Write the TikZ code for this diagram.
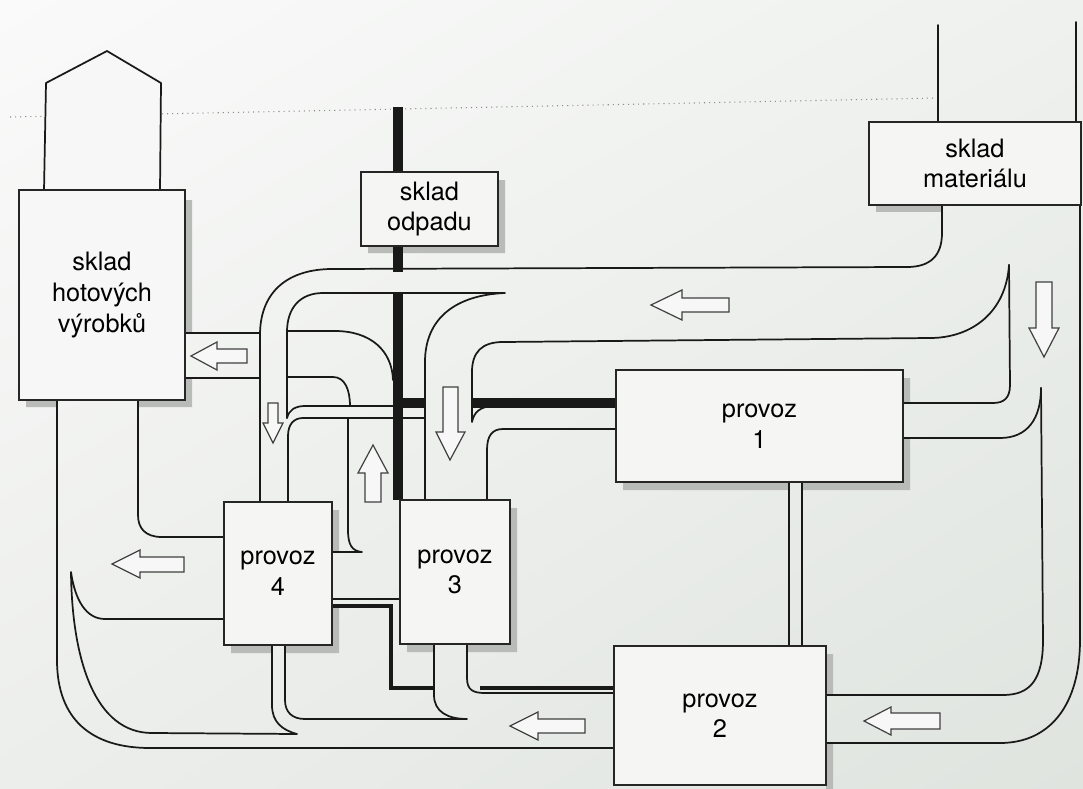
\documentclass[tikz,border=0pt]{standalone}
\usepackage{fontspec}
\setmainfont{TeX Gyre Heros}
\usetikzlibrary{shadings}
\definecolor{bgA}{HTML}{FAFAFA}
\definecolor{bgB}{HTML}{EEF1EE}
\definecolor{bgC}{HTML}{ECEEEB}
\definecolor{bgD}{HTML}{DFE4DF}
\definecolor{boxc}{HTML}{F5F6F4}
\definecolor{shdc}{HTML}{B9BBB9}
\begin{document}
\begin{tikzpicture}[x=0.75pt,y=-0.75pt,
  ln/.style={draw=black!90,line width=1.3pt,line join=round,line cap=round},
  thk/.style={draw=black!90,line width=7pt},
  thkb/.style={draw=black!90,line width=3.2pt},
  harrow/.style={draw=black!75,line width=0.9pt,fill=white!97!black,line join=miter},
  box/.style={draw=black!85,line width=1.2pt,fill=boxc,align=center,inner sep=0pt,
    font=\fontsize{19}{23}\selectfont},
  shd/.style={fill=shdc,draw=none}]
\useasboundingbox (0,0) rectangle (1083,789);
\shade[upper left=bgA,upper right=bgB,lower left=bgC,lower right=bgD] (0,0) rectangle (1083,789);
% dotted page line
\draw[black!45,line width=0.8pt,dash pattern=on 0.8pt off 3pt] (10,117) -- (937,98);
% shadows
\path[shd] (185,200) rectangle (192,333) (185,378) rectangle (192,407)
  (26,400) rectangle (57,407) (138,400) rectangle (192,407);
\path[shd] (498,180) rectangle (505,253) (368,246) rectangle (505,253);
\path[shd] (876,205) rectangle (942,212);
\path[shd] (903,378) rectangle (910,403) (903,438) rectangle (910,490)
  (623,482) rectangle (789,490) (802,482) rectangle (910,490);
\path[shd] (826,654) rectangle (833,695) (826,743) rectangle (833,789);
\path[shd] (510,508) rectangle (517,652) (407,644) rectangle (434,652) (467,644) rectangle (517,652);
\path[shd] (332,510) rectangle (339,552) (332,607) rectangle (339,653)
  (231,645) rectangle (272,653) (285,645) rectangle (339,653);
% house roof of finished goods store
\draw[ln,fill=white!97!black] (44,191) -- (46,83) -- (107,51) -- (161,83) -- (160,191);
% thick waste lines
\draw[thk] (398,107) -- (398,272);
\draw[thk] (398,294) -- (398,500);
\draw[thk] (616,403) -- (472,403);
\draw[thk] (425,403) -- (398,403);
\draw[thkb] (332,606) -- (391,606) -- (391,688) -- (434,688);
\draw[thkb] (480,688) -- (614,688);
% lines above material store
\draw[ln] (938,25) -- (938,122);
\draw[ln] (1076,22) -- (1076,122);
% right side flows
\draw[ln] (1080,205) -- (1080,640) .. controls (1080,705) and (1050,743) .. (1000,743) -- (826,743);
\draw[ln] (1041,388) -- (1043,640) .. controls (1043,680) and (1030,695) .. (1003,695) -- (826,695);
\draw[ln] (1041,388) .. controls (1041,418) and (1028,438) .. (1000,438) -- (903,438);
\draw[ln] (1009,265) -- (1010,385) .. controls (1010,398) and (1004,403) .. (993,403) -- (903,403);
\draw[ln] (1009,265) .. controls (1006,312) and (972,338) .. (930,338) -- (503,342)
  .. controls (482,342) and (472,352) .. (472,372) -- (472,422)
  .. controls (474,412) and (480,407) .. (492,406);
% top band
\draw[ln] (942,205) -- (942,233) .. controls (942,256) and (930,267) .. (907,267) -- (330,269)
  .. controls (284,270) and (260,295) .. (260,335) -- (260,502);
\draw[ln] (287,418) -- (287,332) .. controls (287,308) and (300,293) .. (323,293) -- (505,293)
  .. controls (456,295) and (425,318) .. (425,362) -- (425,500);
% band into finished goods store
\draw[ln] (185,333) -- (260,333);
\draw[ln] (185,378) -- (260,378);
\draw[ln] (287,331) -- (335,331) .. controls (370,331) and (392,350) .. (393,380);
\draw[ln] (287,377) -- (333,377) .. controls (345,377) and (350,390) .. (350,406);
% band from provoz 1 to provoz 4
\draw[ln] (287,418) .. controls (289,410) and (295,406) .. (305,406) -- (425,406);
\draw[ln] (425,418) -- (303,418) .. controls (294,418) and (288,424) .. (288,436) -- (288,502);
% up band
\draw[ln] (348,418) -- (348,530) .. controls (348,545) and (352,551) .. (362,552) -- (332,552);
\draw[ln] (332,599) -- (400,599);
% provoz 1 to provoz 3
\draw[ln] (616,429) -- (503,429) .. controls (492,429) and (487,436) .. (487,450) -- (487,500);
% provoz 1 to provoz 2
\draw[ln] (789,482) -- (789,646);
\draw[ln] (802,482) -- (802,646);
% bottom flows
\draw[ln] (434,644) -- (434,695) .. controls (434,712) and (448,719) .. (467,719) -- (305,719)
  .. controls (292,719) and (285,712) .. (285,700) -- (285,645);
\draw[ln] (467,644) -- (467,678) .. controls (467,690) and (473,693) .. (485,693) -- (614,693);
\draw[ln] (272,645) -- (272,705) .. controls (272,722) and (282,730) .. (297,734) -- (152,733)
  .. controls (95,733) and (72,660) .. (71,572)
  .. controls (75,600) and (86,619) .. (105,619) -- (224,619);
\draw[ln] (224,537) -- (162,537) .. controls (145,537) and (138,528) .. (138,515) -- (138,400);
\draw[ln] (57,400) -- (57,660) .. controls (57,720) and (92,748) .. (150,748) -- (614,748);
% hollow arrows
\draw[harrow] (651,305) -- (682,290) -- (682,298) -- (729,298) -- (729,312) -- (682,312) -- (682,320) -- cycle;
\draw[harrow] (191,356) -- (217,342) -- (217,349) -- (247,349) -- (247,363) -- (217,363) -- (217,370) -- cycle;
\draw[harrow] (112,564) -- (140,550) -- (140,557) -- (184,557) -- (184,572) -- (140,572) -- (140,578) -- cycle;
\draw[harrow] (510,726) -- (538,712) -- (538,719) -- (585,719) -- (585,733) -- (538,733) -- (538,740) -- cycle;
\draw[harrow] (864,721) -- (891,707) -- (891,713) -- (940,713) -- (940,729) -- (891,729) -- (891,735) -- cycle;
\draw[harrow] (1044,357) -- (1029,328) -- (1036,328) -- (1036,282) -- (1052,282) -- (1052,328) -- (1059,328) -- cycle;
\draw[harrow] (273,443) -- (263,423) -- (268,423) -- (268,403) -- (278,403) -- (278,423) -- (283,423) -- cycle;
\draw[harrow] (450,460) -- (436,432) -- (443,432) -- (443,387) -- (458,387) -- (458,432) -- (465,432) -- cycle;
\draw[harrow] (373,445) -- (358,473) -- (365,473) -- (365,502) -- (381,502) -- (381,473) -- (388,473) -- cycle;
% boxes
\node[box,minimum width=124.5pt,minimum height=157.5pt,fill=white!97!black] (hv) at (102,295) {sklad\\hotových\\výrobků};
\node[box,minimum width=102.75pt,minimum height=55.5pt] (odp) at (429.5,209) {sklad\\odpadu};
\node[box,minimum width=159pt,minimum height=62.25pt] (mat) at (975,163.5) {sklad\\materiálu};
\node[box,minimum width=215.25pt,minimum height=84pt] (p1) at (759.5,426) {provoz\\1};
\node[box,minimum width=159pt,minimum height=104.25pt] (p2) at (720,715.5) {provoz\\2};
\node[box,minimum width=82.5pt,minimum height=108pt] (p3) at (455,572) {provoz\\3};
\node[box,minimum width=81pt,minimum height=107.25pt] (p4) at (278,573.5) {provoz\\4};
\end{tikzpicture}
\end{document}
